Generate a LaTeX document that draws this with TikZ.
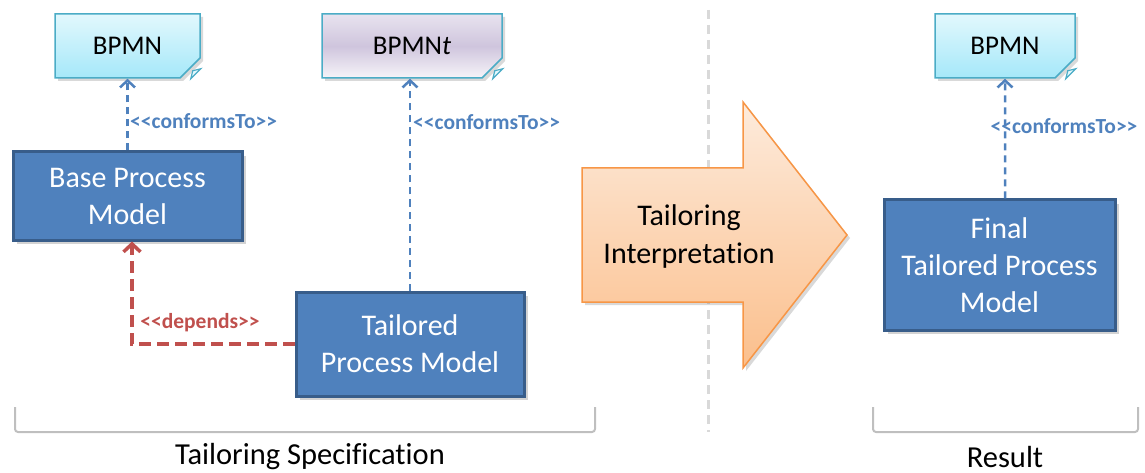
\documentclass[tikz,border=0pt]{standalone}
\usepackage{fontspec}
\setmainfont{Carlito}[Ligatures={TeXOff,NoCommon}]
\usepackage{tikz}
\usetikzlibrary{shapes.misc, arrows.meta, shadows, calc}
\definecolor{boxblue}{HTML}{4F81BD}
\definecolor{boxedge}{HTML}{385D8A}
\definecolor{noteedge}{HTML}{4BACC6}
\definecolor{depred}{HTML}{C0504D}
\definecolor{arrowedge}{HTML}{F79646}
\definecolor{cyantop}{HTML}{E2F8FD}
\definecolor{cyanbot}{HTML}{A5E8F9}
\definecolor{lavtop}{HTML}{E8E3EF}
\definecolor{lavmid}{HTML}{CFC5DD}
\definecolor{lavbot}{HTML}{F6F4F9}
\definecolor{orangetop}{HTML}{FDEBDC}
\definecolor{orangebot}{HTML}{FBBF8C}
\tikzstyle{note} = [chamfered rectangle, chamfered rectangle corners=south east, chamfered rectangle xsep=10pt, chamfered rectangle ysep=10pt, minimum height=64pt, text centered, draw=noteedge, line width=1.5pt, font=\fontsize{27}{32}\selectfont, drop shadow={opacity=0.3, shadow xshift=3pt, shadow yshift=-3pt}]
\tikzstyle{bpmnnote} = [note, top color=cyantop, bottom color=cyanbot]
\tikzstyle{bpmntnote} = [note, top color=lavtop, bottom color=lavbot, middle color=lavmid]
\tikzstyle{model} = [rectangle, text centered, draw=boxedge, fill=boxblue, line width=3pt, text=white, align=center, font=\fontsize{30}{37}\selectfont, drop shadow={opacity=0.35, shadow xshift=4pt, shadow yshift=-4pt}]
\tikzstyle{fold} = [draw=noteedge, line width=1.2pt, fill=cyantop]
\tikzstyle{conformsarrow} = [boxblue, line width=2.5pt, dash pattern=on 7pt off 5pt, -{Straight Barb[length=7pt,width=15pt,line width=2.5pt]}]
\tikzstyle{dependsarrow} = [depred, line width=4pt, dash pattern=on 12pt off 6pt, -{Straight Barb[length=8pt,width=17pt,line width=3.5pt]}]
\tikzstyle{lbl} = [font=\bfseries\fontsize{21.5}{24}\selectfont, inner sep=0pt]
\tikzstyle{bracket} = [black!25, line width=2pt, rounded corners=3pt]
\tikzstyle{caption} = [font=\fontsize{30.5}{36}\selectfont]

\begin{document}
\begin{tikzpicture}[x=1pt, y=-1pt]
\useasboundingbox (0,0) rectangle (1145,473);

% left side
\node (bpmnA) [bpmnnote, minimum width=145pt] at (127.5,46) {BPMN};
\node (base) [model, minimum width=229pt, minimum height=88pt] at (127.5,196) {Base Process\\Model};
\node (bpmnT) [bpmntnote, minimum width=180pt, right of=bpmnA, node distance=284.5pt] {BPMN\textit{t}};
\node (tailored) [model, minimum width=228pt, minimum height=104pt] at (410,344) {Tailored\\Process Model};

% right side
\node (bpmnF) [bpmnnote, minimum width=140pt] at (1005,46) {BPMN};
\node (final) [model, minimum width=231pt, minimum height=130pt] at (999.5,265) {Final\\Tailored Process\\Model};

% separator
\draw [black!15, line width=3pt, dash pattern=on 9pt off 6pt] (708,10) -- (708,432);

% big arrow
\shade [top color=orangetop, bottom color=orangebot, draw=arrowedge, line width=1.5pt, drop shadow={opacity=0.3, shadow xshift=3pt, shadow yshift=-3pt}]
  (582,168) -- (743,168) -- (743,102) -- (847,235) -- (743,368) -- (743,302) -- (582,302) -- cycle;
\node (interp) [font=\fontsize{30}{38}\selectfont, align=center] at (689,237) {Tailoring\\Interpretation};

% note folds
\foreach \n in {bpmnA, bpmnT, bpmnF}
  \draw [fold] ($(\n.east |- \n.south)+(-10,0)$) -- ($(\n.east |- \n.south)+(-8,-8)$) -- ($(\n.east |- \n.south)+(0,-10)$) -- cycle;

% connectors
\draw [conformsarrow] (base) -- (bpmnA);
\node (confA) [lbl, boxblue, anchor=west] at (130,121) {<<conformsTo>>};
\draw [conformsarrow] (tailored.north) -- (tailored.north |- bpmnT.south);
\node (confT) [lbl, boxblue, anchor=west] at (413,122) {<<conformsTo>>};
\draw [conformsarrow] (final.north -| bpmnF) -- (bpmnF);
\node (confF) [lbl, boxblue] at (1064,126) {<<conformsTo>>};

\coordinate (depcorner) at (132,344);
\draw [dependsarrow] (tailored.west) -- (depcorner) -- (base.south -| depcorner);
\node (dep) [lbl, depred] at (200,323) {<<depends>>};

% brackets
\draw [bracket] (15,407) -- (15,432) -- (595,432) -- (595,407);
\draw [bracket] (873,407) -- (873,432) -- (1138,432) -- (1138,407);
\node (spec) [caption] at (310,457) {Tailoring Specification};
\node (result) [caption] at (1005,457) {Result};
\end{tikzpicture}
\end{document}
